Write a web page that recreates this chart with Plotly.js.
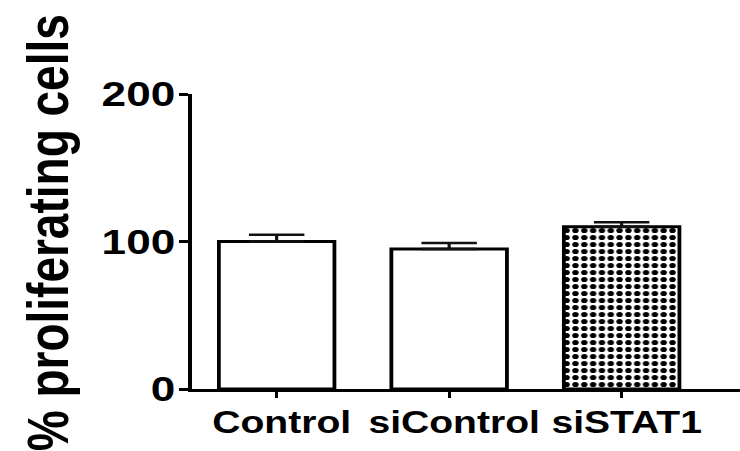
<!DOCTYPE html>
<html>
<head>
<meta charset="utf-8">
<script src="https://cdn.plot.ly/plotly-3.0.1.min.js"></script>
<style>
  html, body { margin: 0; padding: 0; background: #ffffff; overflow: hidden; }
  #wrap { width: 740px; height: 451px; overflow: hidden; }
  #chart { width: 587px; height: 451px; transform: scaleX(1.2606); transform-origin: 0 0; }
</style>
</head>
<body>
<div id="wrap"><div id="chart"></div></div>
<script>
// Data
const categories = ["Control", "siControl", "siSTAT1"];
const values = [100, 95, 110];
const errorsUp = [4.5, 4, 3];
const errorsDown = [0, 0, 0];
const yTicks = [0, 100, 200];
const yTitle = "% proliferating cells";

const FONT = "Liberation Sans, Arial, Helvetica, sans-serif";

const trace = {
  type: "bar",
  x: categories,
  y: values,
  marker: {
    color: ["#ffffff", "#ffffff", "#000000"],
    line: { color: "#000000", width: 3 },
    pattern: {
      shape: ["", "", "."],
      fgcolor: "#000000",
      bgcolor: "#ffffff",
      fgopacity: 1,
      size: 7,
      solidity: 0.42,
      fillmode: "replace"
    }
  },
  error_y: {
    type: "data",
    symmetric: false,
    array: errorsUp,
    arrayminus: errorsDown,
    color: "#111111",
    thickness: 2.5,
    width: 22
  },
  hoverinfo: "skip"
};

const layout = {
  width: 587,
  height: 451,
  margin: { l: 152.4, r: 0, t: 94, b: 62, pad: 0 },
  paper_bgcolor: "#ffffff",
  plot_bgcolor: "#ffffff",
  showlegend: false,
  bargap: 0.33,
  font: { family: FONT, color: "#000000", weight: "bold" },
  xaxis: {
    type: "category",
    range: [-0.493, 2.686],
    showline: true,
    linecolor: "#000000",
    linewidth: 3,
    showgrid: false,
    zeroline: false,
    ticks: "outside",
    ticklen: 6,
    tickwidth: 2.5,
    tickcolor: "#000000",
    ticklabelshift: 4,
    ticklabelstandoff: -2,
    tickfont: { family: FONT, size: 31, color: "#000000", weight: "bold" },
    fixedrange: true
  },
  yaxis: {
    range: [0, 200],
    tickvals: yTicks,
    ticktext: yTicks.map(String),
    showline: true,
    linecolor: "#000000",
    linewidth: 3,
    showgrid: false,
    zeroline: false,
    ticks: "outside",
    ticklen: 7,
    tickwidth: 3,
    tickcolor: "#000000",
    ticklabelstandoff: -4,
    tickfont: { family: FONT, size: 35, color: "#000000", weight: "bold" },
    fixedrange: true
  },
  annotations: [{
    text: yTitle,
    xref: "paper",
    yref: "paper",
    x: -0.262,
    y: 0.528,
    xanchor: "center",
    yanchor: "middle",
    textangle: -90,
    showarrow: false,
    font: { family: FONT, size: 46, color: "#000000", weight: "bold" }
  }]
};

Plotly.newPlot("chart", [trace], layout, { staticPlot: true, displayModeBar: false });
</script>
</body>
</html>
